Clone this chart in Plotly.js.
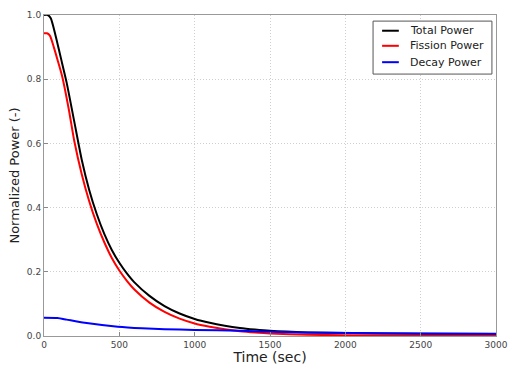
<!DOCTYPE html>
<html><head><meta charset="utf-8">
<script src="https://cdn.plot.ly/plotly-3.0.1.min.js"></script>
<style>html,body{margin:0;padding:0;background:#fff}#chart{width:508px;height:365px}</style>
</head><body><div id="chart"></div>
<script>
var totalTime = [0,25,45,90,120,150,200,250,300,350,400,450,500,550,600,700,800,900,1000,1100,1200,1300,1400,1500,1750,2000,2500,3000];
var totalPower = [1.0,1.0,0.99,0.91,0.85,0.79,0.67,0.55,0.455,0.38,0.318,0.268,0.228,0.195,0.167,0.125,0.093,0.070,0.053,0.041,0.032,0.025,0.020,0.016,0.011,0.009,0.007,0.006];
var fissionTime = [0,20,40,65,90,120,165,200,250,300,350,400,450,500,550,600,700,800,900,1000,1100,1200,1300,1400,1500,1750,2000,2500,3000];
var fissionPower = [0.943,0.943,0.935,0.90,0.86,0.81,0.705,0.61,0.505,0.42,0.35,0.292,0.243,0.204,0.172,0.145,0.104,0.075,0.054,0.039,0.029,0.021,0.015,0.011,0.008,0.004,0.002,0.001,0.001];
var decayTime = [0,90,150,270,490,650,800,1000,1300,1500,1900,2500,3000];
var decayPower = [0.057,0.056,0.051,0.041,0.029,0.024,0.021,0.019,0.016,0.013,0.010,0.008,0.007];
var seriesNames = ["Total Power","Fission Power","Decay Power"];
var seriesColors = ["#000000","#ff0000","#0000ff"];
var xTicks = [0,500,1000,1500,2000,2500,3000];
var yTicks = [0.0,0.2,0.4,0.6,0.8,1.0];
var yTickText = ["0.0","0.2","0.4","0.6","0.8","1.0"];

var font = "DejaVu Sans, Arial, sans-serif";
var xs = [totalTime, fissionTime, decayTime];
var ys = [totalPower, fissionPower, decayPower];
var traces = seriesNames.map(function(n, i){
  return {x: xs[i], y: ys[i], name: n, mode: "lines", showlegend: false,
          line: {color: seriesColors[i], width: 2, shape: "spline", smoothing: 0.6}};
});

// matplotlib-style legend box with tighter rows than Plotly's own legend
var legY = [0.951, 0.904, 0.853];
var shapes = [{type: "rect", xref: "paper", yref: "paper", x0: 0.728, x1: 0.991, y0: 0.816, y1: 0.981,
               line: {color: "#555", width: 1}, fillcolor: "#fff", layer: "above"}];
var annotations = [];
seriesNames.forEach(function(n, i){
  shapes.push({type: "line", xref: "paper", yref: "paper", x0: 0.748, x1: 0.785, y0: legY[i], y1: legY[i],
               line: {color: seriesColors[i], width: 2}, layer: "above"});
  annotations.push({xref: "paper", yref: "paper", x: 0.806, y: legY[i], xanchor: "left", yanchor: "middle",
                    text: n, showarrow: false, font: {size: 11, color: "#222", family: font}});
});

var layout = {
  width: 508, height: 365,
  margin: {l: 44, r: 12, t: 15, b: 29},
  paper_bgcolor: "#fff", plot_bgcolor: "#fff",
  font: {family: font, color: "#333"},
  showlegend: false,
  shapes: shapes, annotations: annotations,
  xaxis: {range: [0, 3000], tickvals: xTicks, ticks: "inside", ticklen: 4, tickcolor: "#888",
          showline: true, mirror: true, linecolor: "#999", linewidth: 1,
          showgrid: true, gridcolor: "#cfcfcf", griddash: "1px,2px", zeroline: false,
          tickfont: {size: 9, color: "#444"},
          title: {text: "Time (sec)", font: {size: 14, color: "#222"}, standoff: 2}},
  yaxis: {range: [0, 1.0], tickvals: yTicks, ticktext: yTickText, ticks: "inside", ticklen: 4, tickcolor: "#888",
          showline: true, mirror: true, linecolor: "#999", linewidth: 1,
          showgrid: true, gridcolor: "#cfcfcf", griddash: "1px,2px", zeroline: false,
          tickfont: {size: 9, color: "#444"},
          title: {text: "Normalized Power (-)", font: {size: 13, color: "#222"}, standoff: 4}}
};
Plotly.newPlot("chart", traces, layout, {staticPlot: true, displayModeBar: false});
</script>
</body></html>
